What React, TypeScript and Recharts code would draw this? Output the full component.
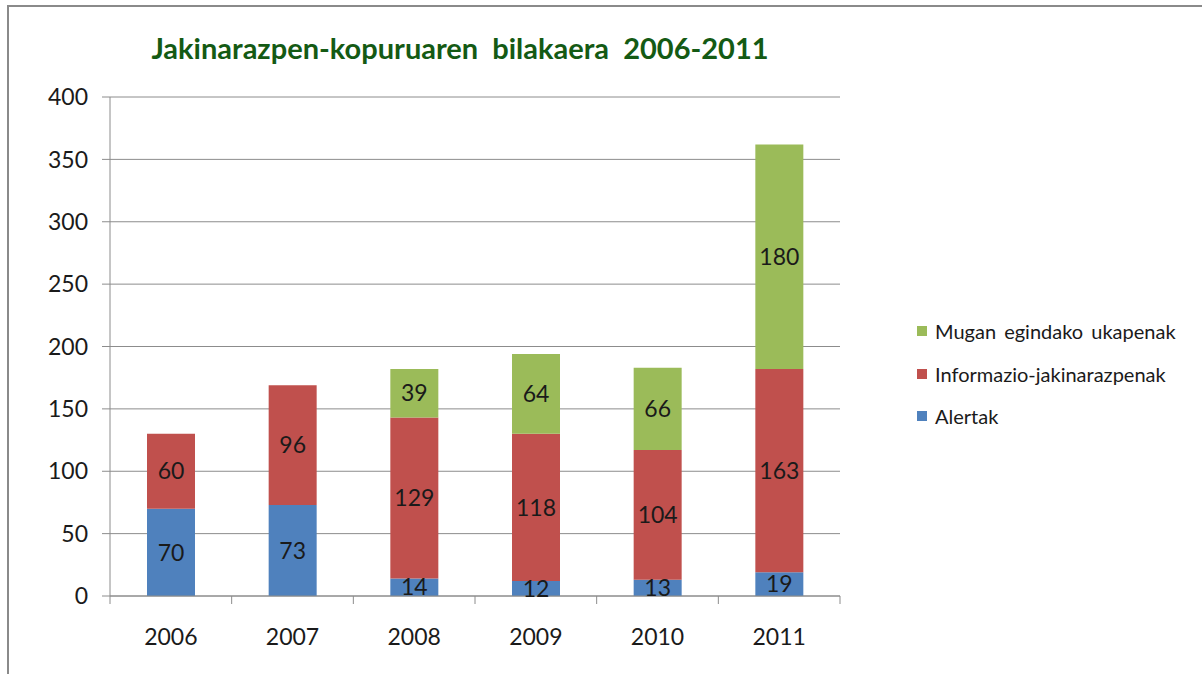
import React from 'react';
import { BarChart, Bar, XAxis, YAxis, CartesianGrid, Legend, LabelList } from 'recharts';

const years = ['2006', '2007', '2008', '2009', '2010', '2011'];
const alertak = [70, 73, 14, 12, 13, 19];
const informazio = [60, 96, 129, 118, 104, 163];
const mugan: (number | null)[] = [null, null, 39, 64, 66, 180];
const yTicks = [0, 50, 100, 150, 200, 250, 300, 350, 400];

const seriesNames = {
  alertak: 'Alertak',
  informazio: 'Informazio-jakinarazpenak',
  mugan: 'Mugan egindako ukapenak',
};
const titleText = 'Jakinarazpen-kopuruaren  bilakaera  2006-2011';

const data = years.map((y, i) => ({
  year: y,
  alertak: alertak[i],
  informazio: informazio[i],
  mugan: mugan[i],
}));

const W = 1202;
const H = 674;
const PLOT_LEFT = 110;
const PLOT_RIGHT = 840;
const PLOT_TOP = 97;
const PLOT_BOTTOM = 596;
const BAND = (PLOT_RIGHT - PLOT_LEFT) / years.length;

const FONT = 'Lato, "DejaVu Sans", sans-serif';
const GRID = '#8c8c8c';

const XTick = (props: any) => {
  const { x, y, payload, index } = props;
  return (
    <g>
      <line x1={x - BAND / 2} x2={x - BAND / 2} y1={y} y2={y + 8} stroke={GRID} strokeWidth={1} />
      {index === years.length - 1 && (
        <line x1={x + BAND / 2} x2={x + BAND / 2} y1={y} y2={y + 8} stroke={GRID} strokeWidth={1} />
      )}
      <text x={x} y={y + 49} textAnchor="middle" fontFamily={FONT} fontSize={23} fill="#1a1a1a">
        {payload.value}
      </text>
    </g>
  );
};

const renderLegend = (props: any) => {
  const items = [...(props.payload || [])].reverse();
  return (
    <div style={{ fontFamily: FONT, fontSize: 20, color: '#1a1a1a' }}>
      {items.map((it: any) => (
        <div key={it.value} style={{ display: 'flex', alignItems: 'center', height: 42.5 }}>
          <span style={{ display: 'inline-block', width: 10, height: 10, background: it.color, marginRight: 8 }} />
          <span style={{ wordSpacing: 3 }}>{it.value}</span>
        </div>
      ))}
    </div>
  );
};

const labelStyle = { fontFamily: FONT, fontSize: 23, fill: '#1a1a1a' };

export default function App() {
  return (
    <div style={{ position: 'absolute', left: 0, top: 0, width: W, height: H, background: '#fff', overflow: 'hidden' }}>
      <div
        style={{
          position: 'absolute',
          left: 7,
          top: 5,
          width: W,
          height: H,
          borderTop: '2px solid #8a8a8a',
          borderLeft: '2px solid #8a8a8a',
          boxSizing: 'border-box',
        }}
      />
      <div
        style={{
          position: 'absolute',
          left: 0,
          width: 920,
          top: 30,
          textAlign: 'center',
          fontFamily: FONT,
          fontWeight: 700,
          fontSize: 29,
          color: '#145a14',
          whiteSpace: 'pre',
        }}
      >
        {titleText}
      </div>
      <div style={{ position: 'absolute', left: 0, top: 0 }}>
        <BarChart
          width={W}
          height={H}
          data={data}
          margin={{ top: PLOT_TOP, right: W - PLOT_RIGHT, bottom: 0, left: 0 }}
          barSize={48}
        >
          <CartesianGrid vertical={false} stroke={GRID} strokeWidth={1} />
          <XAxis
            dataKey="year"
            height={H - PLOT_BOTTOM}
            axisLine={{ stroke: GRID }}
            tickLine={false}
            tickSize={0}
            tickMargin={0}
            tick={<XTick />}
            interval={0}
          />
          <YAxis
            width={PLOT_LEFT}
            domain={[0, 400]}
            ticks={yTicks}
            axisLine={{ stroke: GRID }}
            tickLine={{ stroke: GRID }}
            tickSize={8}
            tickMargin={14}
            tick={{ fontFamily: FONT, fontSize: 23, fill: '#1a1a1a' }}
          />
          <Legend
            layout="vertical"
            align="center"
            verticalAlign="middle"
            content={renderLegend}
            wrapperStyle={{ left: 917, top: 310, width: 280 }}
          />
          <Bar dataKey="alertak" name={seriesNames.alertak} stackId="a" fill="#4f81bd" isAnimationActive={false}>
            <LabelList dataKey="alertak" position="center" style={labelStyle} />
          </Bar>
          <Bar dataKey="informazio" name={seriesNames.informazio} stackId="a" fill="#c0504d" isAnimationActive={false}>
            <LabelList dataKey="informazio" position="center" style={labelStyle} />
          </Bar>
          <Bar dataKey="mugan" name={seriesNames.mugan} stackId="a" fill="#9bbb59" isAnimationActive={false}>
            <LabelList dataKey="mugan" position="center" style={labelStyle} />
          </Bar>
        </BarChart>
      </div>
    </div>
  );
}
